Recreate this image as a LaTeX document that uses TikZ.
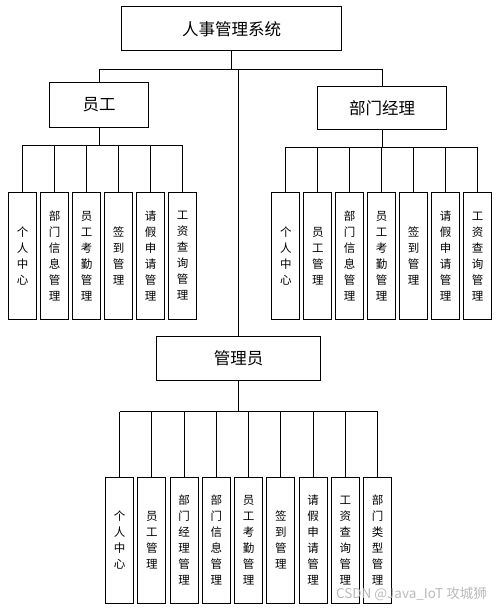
\documentclass[tikz,border=0pt]{standalone}
\usepackage{fontspec}
\newfontfamily\cjk{Noto Sans CJK SC}
\tikzset{
  headbox/.style={draw,line width=0.9pt,font=\cjk\fontsize{16.5}{19}\selectfont,inner sep=0pt},
  leafbox/.style={draw,line width=0.9pt,minimum width=28pt,minimum height=127pt,inner sep=0pt,
                  align=center,font=\cjk\fontsize{11.5}{16}\selectfont},
  wire/.style={line width=0.9pt}
}
\begin{document}
\begin{tikzpicture}[x=1pt,y=-1pt]
    \useasboundingbox (0,0) rectangle (500,611);

    % top level
    \node[headbox,minimum width=220pt,minimum height=44pt] (sys) at (231.7,28.8) {人事管理系统};
    \node[headbox,minimum width=99pt,minimum height=44.5pt] (emp) at (99.2,105) {员工};
    \node[headbox,minimum width=129pt,minimum height=43.3pt] (mgr) at (382,107.7) {部门经理};
    \node[headbox,minimum width=164pt,minimum height=44.7pt] (adm) at (238.7,358.4) {管理员};

    \coordinate (bus) at (0,69.3);
    \draw[wire] (sys) -- (sys |- bus);
    \draw[wire] (emp |- bus) -- (mgr |- bus);
    \draw[wire] (emp |- bus) -- (emp);
    \draw[wire] (mgr |- bus) -- (mgr);
    \draw[wire] (adm |- bus) -- (adm);

    % 员工
    \foreach \txt [count=\i] in {个\\人\\中\\心,部\\门\\信\\息\\管\\理,员\\工\\考\\勤\\管\\理,
                                 签\\到\\管\\理,请\\假\\申\\请\\管\\理,工\\资\\查\\询\\管\\理}
        \node[leafbox] (e\i) at ({22.5+32*(\i-1)},255.8) {\txt};
    \coordinate (ebus) at (0,145);
    \draw[wire] (emp) -- (emp |- ebus);
    \draw[wire] (e1 |- ebus) -- (e6 |- ebus);
    \foreach \i in {1,...,6}
        \draw[wire] (e\i |- ebus) -- (e\i);

    % 部门经理
    \foreach \txt [count=\i] in {个\\人\\中\\心,员\\工\\管\\理,部\\门\\信\\息\\管\\理,员\\工\\考\\勤\\管\\理,
                                 签\\到\\管\\理,请\\假\\申\\请\\管\\理,工\\资\\查\\询\\管\\理}
        \node[leafbox] (m\i) at ({285.8+31.95*(\i-1)},256.2) {\txt};
    \coordinate (mbus) at (0,147.3);
    \draw[wire] (mgr) -- (mgr |- mbus);
    \draw[wire] (m1 |- mbus) -- (m7 |- mbus);
    \foreach \i in {1,...,7}
        \draw[wire] (m\i |- mbus) -- (m\i);

    % 管理员
    \foreach \txt [count=\i] in {个\\人\\中\\心,员\\工\\管\\理,部\\门\\经\\理\\管\\理,部\\门\\信\\息\\管\\理,
                                 员\\工\\考\\勤\\管\\理,签\\到\\管\\理,请\\假\\申\\请\\管\\理,
                                 工\\资\\查\\询\\管\\理,部\\门\\类\\型\\管\\理}
        \node[leafbox,minimum height=126pt] (a\i) at ({119.5+32.25*(\i-1)},540.3) {\txt};
    \coordinate (abus) at (0,411.7);
    \draw[wire] (adm) -- (adm |- abus);
    \draw[wire] (a1 |- abus) -- (a9 |- abus);
    \foreach \i in {1,...,9}
        \draw[wire] (a\i |- abus) -- (a\i);

    \node[font=\cjk\fontsize{13.5}{15}\selectfont,text=black!30,fill opacity=0,text opacity=0.9,anchor=east,inner sep=0pt]
        (mark) at (487,594) {CSDN @Java\_IoT 攻城狮};
\end{tikzpicture}
\end{document}
